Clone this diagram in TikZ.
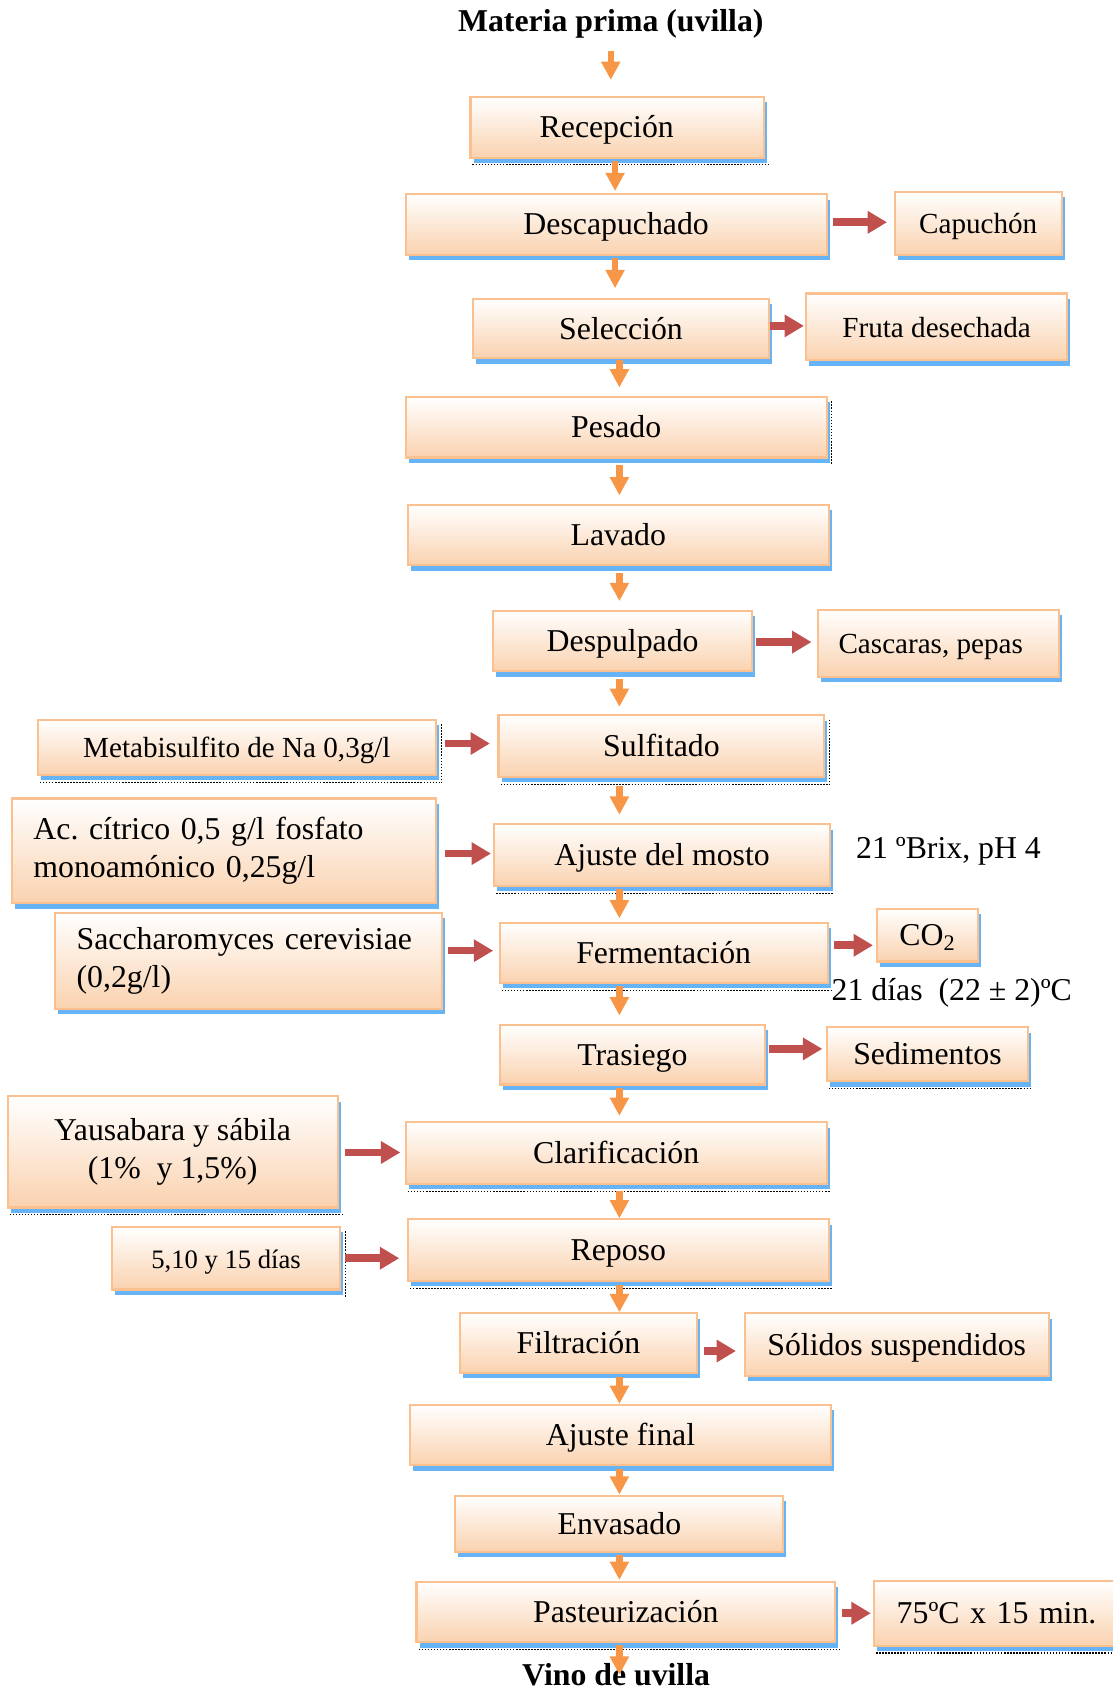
\documentclass[tikz,border=0pt]{standalone}
\usepackage{fontspec}
\setmainfont{Liberation Serif}
\usetikzlibrary{arrows.meta,shadows}
\definecolor{bordC}{RGB}{250,192,143}
\definecolor{peach}{RGB}{250,210,175}
\definecolor{shadC}{RGB}{102,179,245}
\definecolor{orangeA}{RGB}{247,150,70}
\definecolor{redA}{RGB}{192,80,77}
\newcommand\fM{\fontsize{16.7}{19.6}\selectfont}
\newcommand\fS{\fontsize{15.3}{18}\selectfont}
\newcommand\fX{\fontsize{14}{16.5}\selectfont}
\def\pu{0.5669pt}
\frenchspacing
\tikzset{
  box/.style={draw=bordC, line width=1.1pt, top color=white, bottom color=peach,
    inner sep=0pt, align=center, font=\fM,
    drop shadow={shadow xshift=1.6pt, shadow yshift=-2.8pt, fill=shadC, opacity=1}},
  one/.style={text height=12.3pt, text depth=1.3pt},
  wh/.style n args={2}{minimum width=#1*0.5669pt, minimum height=#2*0.5669pt},
  lbl/.style={inner sep=0pt, font=\fM},
  oarr/.style={draw=orangeA, line width=3.4pt, -{Triangle[width=9.6pt,length=9.6pt]}},
  rarr/.style={draw=redA, line width=4pt, -{Triangle[width=11.3pt,length=10.2pt]}},
  dotl/.style={black, line width=0.6pt, dash pattern=on 0.8pt off 0.8pt}
}
\newcommand\rarw[5]{\draw[rarr, shorten <=#4*\pu, shorten >=#5*\pu] ([yshift=#3*\pu]#1.east) -- ([yshift=#3*\pu]#1.east -| #2.west);}
\newcommand\darw[5]{\draw[oarr, shorten <=#4*\pu, shorten >=#5*\pu] (#1.south -| #3) -- (#2.north -| #3);}
\newcommand\dotb[1]{\draw[dotl] ([shift={(1.6pt,-3.3pt)}]#1.south west) -- ([shift={(1.6pt,-3.3pt)}]#1.south east);}
\newcommand\dotr[1]{\draw[dotl] ([shift={(2.2pt,-2.8pt)}]#1.north east) -- ([shift={(2.2pt,-3.3pt)}]#1.south east);}
\begin{document}
\begin{tikzpicture}[x=0.5669pt, y=-0.5669pt]
\useasboundingbox (0,0) rectangle (1031,1568);
\coordinate (sp1) at (570,0);
\coordinate (spine) at (574,0);

% titles and free labels
\node[lbl, font=\fM\bfseries] (title) at (566,22) {Materia prima (uvilla)};
\node[lbl] (brix) at (879,789) {21 ºBrix, pH 4};
\node[lbl] (tdias) at (882,920) {21 días\ \ (22 ± 2)ºC};

% process boxes
\node[box, one, wh={272}{56}] (recep) at (572,118) {Recepción\hspace{11pt}};
\node[box, one, wh={390}{56}] (descap) at (571,208) {Descapuchado};
\node[box, one, wh={155}{58}, font=\fS] (capu) at (906.5,207) {Capuchón};
\node[box, one, wh={275}{55}] (selec) at (575.5,304.5) {Selección};
\node[box, one, wh={242}{62}, font=\fS] (fruta) at (868,303) {Fruta desechada};
\node[box, one, wh={390}{56}] (pesado) at (571,396) {Pesado};
\node[box, one, wh={390}{56}] (lavado) at (573,496) {Lavado};
\node[box, one, wh={240}{56}] (despul) at (577,594) {Despulpado};
\node[box, one, wh={223}{62}, font=\fS] (cascar) at (869.5,596) {Cascaras, pepas\hspace{7.9pt}};
\node[box, one, wh={302}{57}] (sulf) at (613,691.5) {Sulfitado};
\node[box, one, wh={369}{51}, font=\fS] (meta) at (219.5,692.5) {Metabisulfito de Na 0,3g/l};
\node[box, one, wh={311}{57}] (ajuste) at (613.5,792.5) {Ajuste del mosto};
\node[box, wh={393}{97}, align=left, text width=353*0.5669pt, inner xsep=20*0.5669pt] (acido) at (207.5,788.5) {Ac. cítrico 0,5 g/l fosfato\\monoamónico 0,25g/l};
\node[box, one, wh={304}{56}] (ferm) at (615,883) {Fermentación};
\node[box, wh={359}{89}, align=left, text width=319*0.5669pt, inner xsep=20*0.5669pt] (sacch) at (230.5,890.5) {Saccharomyces cerevisiae\\(0,2g/l)};
\node[box, one, wh={93}{49}] (co2) at (859.5,866.5) {CO\textsubscript{2}};
\node[box, one, wh={246}{55}] (trasi) at (586,977.5) {Trasiego};
\node[box, one, wh={187}{50}] (sedim) at (859.5,977) {Sedimentos};
\node[box, one, wh={390}{57}] (clar) at (571,1068.5) {Clarificación};
\node[box, wh={306}{103}] (yaus) at (160,1067.5) {Yausabara y sábila\\(1\%\ \ y 1,5\%)};
\node[box, one, wh={390}{57}] (reposo) at (573,1158.5) {Reposo};
\node[box, one, wh={211}{58}, font=\fX] (dias) at (209.5,1166) {5,10 y 15 días};
\node[box, one, wh={220}{55}] (filtr) at (536,1244.5) {Filtración};
\node[box, one, wh={282}{58}] (solid) at (831,1246) {Sólidos suspendidos};
\node[box, one, wh={390}{56}] (ajfin) at (575,1330) {Ajuste final};
\node[box, one, wh={304}{52}] (envas) at (574,1412) {Envasado};
\node[box, one, wh={388}{56}] (past) at (580,1494) {Pasteurización};
\node[box, one, wh={235}{60}, align=left, text width=193*0.5669pt, inner xsep=21*0.5669pt] (temp) at (927.5,1495) {75ºC x 15 min.};
\node[lbl, font=\fM\bfseries] (vino) at (571,1552) {Vino de uvilla};

% dotted frame remnants
\dotb{recep} \dotb{sulf} \dotr{sulf} \dotb{meta} \dotr{meta} \dotb{ajuste}
\dotb{ferm} \dotb{sedim} \dotb{yaus} \dotb{clar} \dotb{reposo} \dotb{past}
\dotb{temp} \dotr{pesado} \dotr{dias}

% main flow arrows
\draw[oarr, shorten <=11.6*\pu, shorten >=15*\pu] (title.south) -- (title.south |- recep.north);
\darw{recep}{descap}{sp1}{2}{2}
\darw{descap}{selec}{sp1}{2}{9}
\darw{selec}{pesado}{spine}{1}{8}
\darw{pesado}{lavado}{spine}{6}{8}
\darw{lavado}{despul}{spine}{6}{8}
\darw{despul}{sulf}{spine}{6}{7}
\darw{sulf}{ajuste}{spine}{7}{8}
\darw{ajuste}{ferm}{spine}{2}{3}
\darw{ferm}{trasi}{spine}{2}{8}
\darw{trasi}{clar}{spine}{2}{5}
\darw{clar}{reposo}{spine}{6}{0}
\darw{reposo}{filtr}{spine}{3}{0}
\darw{filtr}{ajfin}{spine}{3}{0}
\darw{ajfin}{envas}{spine}{2}{0}
\darw{envas}{past}{spine}{2}{1}
\draw[oarr, shorten <=1*\pu] (past.south -| spine) -- (vino.center -| spine);

% side arrows
\rarw{descap}{capu}{2}{5}{6}
\rarw{selec}{fruta}{2.5}{0}{1}
\rarw{despul}{cascar}{-1}{3}{5}
\rarw{meta}{sulf}{3.5}{7}{7}
\rarw{acido}{ajuste}{-2.5}{7}{2}
\rarw{sacch}{ferm}{9.5}{4}{5}
\rarw{ferm}{co2}{7}{5}{3}
\rarw{trasi}{sedim}{5.5}{3}{3}
\rarw{yaus}{clar}{-0.5}{6}{4}
\rarw{dias}{reposo}{0}{4}{7}
\rarw{filtr}{solid}{-7.5}{5}{7}
\rarw{past}{temp}{-1}{5}{2}
\end{tikzpicture}
\end{document}
